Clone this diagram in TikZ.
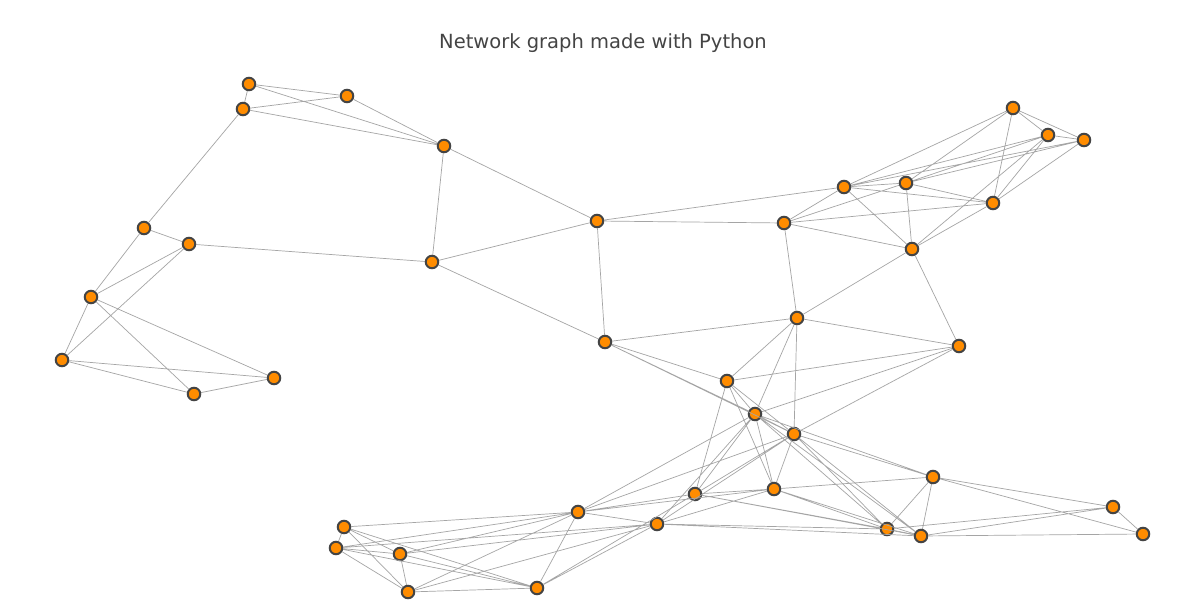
\documentclass[tikz,border=0pt]{standalone}
\usepackage{fontspec}
\setmainfont{DejaVu Sans}
\definecolor{edgegray}{RGB}{165,165,165}
\definecolor{rimgray}{RGB}{68,68,68}
\definecolor{dotorange}{RGB}{255,140,0}
\begin{document}
\begin{tikzpicture}[x=1pt,y=-1pt,
  vertex/.style={circle,inner sep=0pt,minimum size=12.5pt,fill=dotorange,draw=rimgray,line width=2pt},
  link/.style={draw=edgegray,line width=0.7pt}]
\path[use as bounding box,fill=white] (0,0) rectangle (1180,615);
\node[anchor=base,text=rimgray,font=\fontsize{19.5}{23}\selectfont] (title) at (603,48.5) {Network graph made with Python};
% upper left group
\node[vertex] (a1) at (249,84) {};
\node[vertex] (a2) at (243,109) {};
\node[vertex] (a3) at (347,96) {};
\node[vertex] (a4) at (444,146) {};
\node[vertex] (b1) at (144,228) {};
\node[vertex] (b2) at (189,244) {};
\node[vertex] (b3) at (91,297) {};
\node[vertex] (b4) at (62,360) {};
\node[vertex] (b5) at (194,394) {};
\node[vertex] (b6) at (274,378) {};
\node[vertex] (c1) at (432,262) {};
\node[vertex] (c2) at (597,221) {};
\node[vertex] (c3) at (605,342) {};
% upper right group
\node[vertex] (d1) at (844,187) {};
\node[vertex] (d2) at (906,183) {};
\node[vertex] (d3) at (993,203) {};
\node[vertex] (d4) at (1013,108) {};
\node[vertex] (d5) at (1048,135) {};
\node[vertex] (d6) at (1084,140) {};
\node[vertex] (d7) at (784,223) {};
\node[vertex] (d8) at (912,249) {};
\node[vertex] (e1) at (797,318) {};
\node[vertex] (e2) at (959,346) {};
% middle
\node[vertex] (f1) at (727,381) {};
\node[vertex] (f2) at (755,414) {};
\node[vertex] (f3) at (794,434) {};
\node[vertex] (g1) at (578,512) {};
\node[vertex] (g2) at (695,494) {};
\node[vertex] (g3) at (774,489) {};
\node[vertex] (g4) at (657,524) {};
% lower left
\node[vertex] (h1) at (344,527) {};
\node[vertex] (h2) at (336,548) {};
\node[vertex] (h3) at (400,554) {};
\node[vertex] (h4) at (408,592) {};
\node[vertex] (h5) at (537,588) {};
% lower right
\node[vertex] (i1) at (933,477) {};
\node[vertex] (i2) at (887,529) {};
\node[vertex] (i3) at (921,536) {};
\node[vertex] (i4) at (1113,507) {};
\node[vertex] (i5) at (1143,534) {};
% edges
\draw[link] (a1) -- (a2) (a1) -- (a3) (a1) -- (a4) (a2) -- (a3) (a2) -- (a4) (a3) -- (a4)
  (a2) -- (b1) (a4) -- (c1) (a4) -- (c2);
\draw[link] (b1) -- (b2) (b1) -- (b3) (b2) -- (b3) (b2) -- (b4) (b2) -- (c1)
  (b3) -- (b4) (b3) -- (b5) (b3) -- (b6) (b4) -- (b5) (b4) -- (b6) (b5) -- (b6);
\draw[link] (c1) -- (c2) (c1) -- (c3) (c2) -- (c3) (c2) -- (d7) (c2) -- (d1);
\draw[link] (d1) -- (d2) (d1) -- (d3) (d1) -- (d4) (d1) -- (d5) (d1) -- (d6) (d1) -- (d7) (d1) -- (d8)
  (d2) -- (d3) (d2) -- (d4) (d2) -- (d5) (d2) -- (d6) (d2) -- (d7) (d2) -- (d8)
  (d3) -- (d4) (d3) -- (d5) (d3) -- (d6) (d3) -- (d7) (d3) -- (d8)
  (d4) -- (d5) (d4) -- (d6) (d5) -- (d6) (d5) -- (d8);
\draw[link] (d7) -- (d8) (d7) -- (e1) (d8) -- (e1) (d8) -- (e2) (e1) -- (e2)
  (c3) -- (e1) (c3) -- (f1) (c3) -- (f2) (c3) -- (f3)
  (e1) -- (f1) (e1) -- (f2) (e1) -- (f3) (e2) -- (f1) (e2) -- (f2) (e2) -- (f3);
\draw[link] (f1) -- (f2) (f1) -- (f3) (f1) -- (g2) (f1) -- (g3)
  (f2) -- (f3) (f2) -- (g1) (f2) -- (g2) (f2) -- (g3) (f2) -- (g4) (f2) -- (i1) (f2) -- (i2) (f2) -- (i3)
  (f3) -- (g1) (f3) -- (g2) (f3) -- (g3) (f3) -- (g4) (f3) -- (i1) (f3) -- (i2) (f3) -- (i3);
\draw[link] (g1) -- (g2) (g1) -- (g3) (g1) -- (g4) (g1) -- (h1) (g1) -- (h2) (g1) -- (h3) (g1) -- (h4) (g1) -- (h5)
  (g2) -- (g3) (g2) -- (h5) (g2) -- (i2) (g2) -- (i3)
  (g3) -- (g4) (g3) -- (i1) (g3) -- (i2) (g3) -- (i3)
  (g4) -- (h2) (g4) -- (h3) (g4) -- (h4) (g4) -- (h5) (g4) -- (i2) (g4) -- (i3);
\draw[link] (h1) -- (h2) (h1) -- (h3) (h1) -- (h4) (h1) -- (h5) (h2) -- (h3) (h2) -- (h4) (h2) -- (h5)
  (h3) -- (h4) (h3) -- (h5) (h4) -- (h5);
\draw[link] (i1) -- (i2) (i1) -- (i3) (i1) -- (i4) (i1) -- (i5) (i2) -- (i3) (i2) -- (i4)
  (i3) -- (i4) (i3) -- (i5) (i4) -- (i5);
\end{tikzpicture}
\end{document}
